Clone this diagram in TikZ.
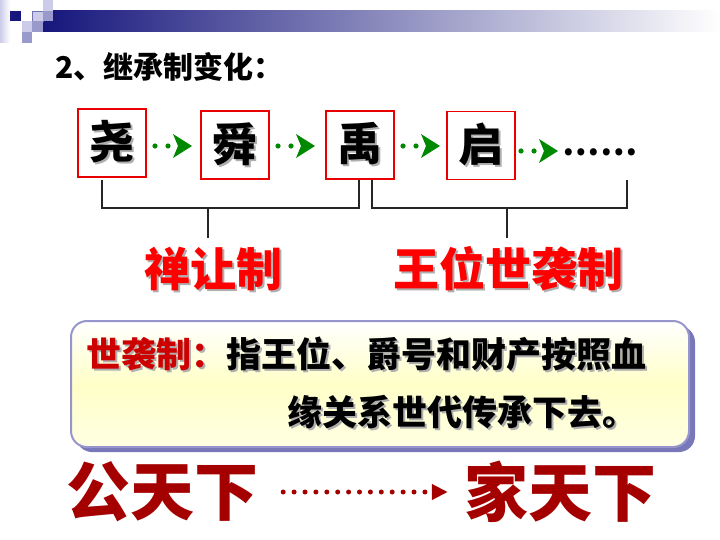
\documentclass[tikz,border=0pt]{standalone}
\usepackage{fontspec}
\newfontfamily\cjk{Noto Sans CJK SC}
\usetikzlibrary{arrows.meta}
\definecolor{navy}{RGB}{22,22,124}
\definecolor{lav}{RGB}{204,204,234}
\definecolor{lavm}{RGB}{153,153,204}
\definecolor{arrgreen}{RGB}{0,136,0}
\definecolor{brdr}{RGB}{150,150,205}
\definecolor{shd}{RGB}{120,120,185}
\definecolor{dred}{RGB}{165,0,0}
\definecolor{boxred}{RGB}{235,0,0}
\definecolor{txtred}{RGB}{205,0,0}
\definecolor{lyel}{RGB}{255,255,200}
\definecolor{lyel2}{RGB}{255,255,228}
\definecolor{shgray}{RGB}{175,175,175}
\newcommand{\shtx}[2]{\makebox[0pt][l]{\hspace{2pt}\raisebox{-2pt}{\textcolor{shgray}{#1}}}#2}
\begin{document}
\begin{tikzpicture}[x=1pt,y=-1pt,
  charbox/.style={draw=boxred,line width=1.3pt,minimum width=68pt,minimum height=68pt,inner sep=0pt,fill=white},
  bigch/.style={font=\cjk\bfseries\fontsize{45}{45}\selectfont,inner sep=0pt},
  lbl/.style={font=\cjk\bfseries\fontsize{46}{46}\selectfont,inner sep=0pt,text=red},
  body/.style={font=\cjk\bfseries\fontsize{35}{35}\selectfont,inner sep=0pt,anchor=west},
  bottomtxt/.style={font=\cjk\bfseries\fontsize{64}{64}\selectfont,inner sep=0pt,text=dred},
  bracket/.style={line width=2pt,black!85},
  dotarrow/.style={draw=dred,line width=5pt,line cap=round,dash pattern=on 0pt off 10.9pt,
    -{Triangle[length=16pt,width=15pt]}},
  chev/.pic={
    \fill[arrgreen] (3,0) circle (2.6) (16,0) circle (2.6);
    \fill[arrgreen] (21,-12) -- (40,0) -- (21,12) -- (26,0) -- cycle;
  }
]
\useasboundingbox (0,0) rectangle (720,540);
% top decoration
\shade[left color=lav,right color=white] (0,0) rectangle (10,43);
\shade[left color=navy,right color=white] (43,11) rectangle (720,32);
\fill[navy] (10,11) rectangle (21,21);
\draw[fill=lav,draw=navy!60,line width=0.6pt] (32,11) rectangle (43,21);
\fill[lav] (43,0) rectangle (53,11);
\fill[lavm] (43,11) rectangle (53,21);
\fill[lav] (22,21) rectangle (32,32);
\fill[lavm] (32,21) rectangle (43,32);
\fill[lavm] (22,32) rectangle (32,43);
% title
\node[font=\cjk\bfseries\fontsize{30}{30}\selectfont,anchor=west,inner sep=0pt] (title) at (55,67) {2、继承制变化：};
% boxes
\node[charbox] (yao) at (112,143) {};
\node[charbox] (shun) at (235,145) {};
\node[charbox] (yu) at (360,145) {};
\node[charbox] (qi) at (481,145.5) {};
\foreach \n/\c in {yao/尧,shun/舜,yu/禹,qi/启}{
  \node[bigch] (\n t) at (\n.center) {\shtx{\c}{\c}};
}
% arrows
\pic (a1) at (152,146) {chev};
\pic (a2) at (275,146) {chev};
\pic (a3) at (400,146) {chev};
\pic (a4) at (518,151) {chev};
\node[font=\cjk\bfseries\fontsize{33}{33}\selectfont,inner sep=0pt] (dots) at (600,152) {……};
% brackets
\coordinate (b1l) at (102,180);
\coordinate (b1r) at (359,180);
\coordinate (b1m) at (208,208);
\coordinate (b1e) at (208,238);
\draw[bracket] (b1l) -- (102,208) -- (359,208) -- (b1r);
\draw[bracket] (b1m) -- (b1e);
\coordinate (b2l) at (372,180);
\coordinate (b2r) at (627,180);
\coordinate (b2m) at (507,208);
\coordinate (b2e) at (507,238);
\draw[bracket] (b2l) -- (372,208) -- (627,208) -- (b2r);
\draw[bracket] (b2m) -- (b2e);
% labels
\node[lbl] (l1) at (213,270) {\shtx{禅让制}{禅让制}};
\node[lbl] (l2) at (508,270) {\shtx{王位世袭制}{王位世袭制}};
% definition box
\fill[shd,rounded corners=16pt] (76,326) rectangle (695,452);
\draw[draw=brdr,line width=2pt,rounded corners=16pt,top color=white,bottom color=lyel2,middle color=lyel] (71,321) rectangle (689,447);
\node[body] (d1) at (86,355) {\shtx{世袭制：指王位、爵号和财产按照血}{{\color{txtred}世袭制：}指王位、爵号和财产按照血}};
\node[body] (d2) at (287,413) {\shtx{缘关系世代传承下去。}{缘关系世代传承下去。}};
% bottom
\node[bottomtxt] (gong) at (162,492) {公天下};
\node[bottomtxt] (jia) at (560,492) {家天下};
\draw[dotarrow] ([xshift=25pt]gong.east) -- ([xshift=-16pt]jia.west);
\end{tikzpicture}
\end{document}
